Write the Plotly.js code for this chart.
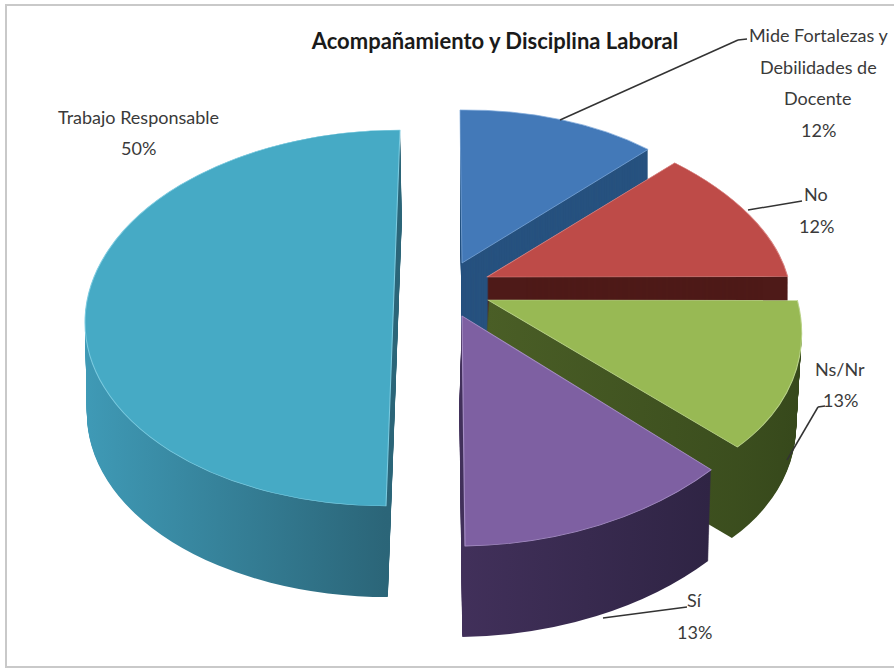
<!DOCTYPE html>
<html>
<head>
<meta charset="utf-8">
<script src="https://cdn.plot.ly/plotly-3.0.1.min.js"></script>
<style>html,body{margin:0;padding:0;background:#fff;overflow:hidden}</style>
</head>
<body>
<div id="chart" style="width:894px;height:669px"></div>
<script>
// ---- data ----
const categories = ["Mide Fortalezas y Debilidades de Docente", "No", "Ns/Nr", "Sí", "Trabajo Responsable"];
const values = [12, 12, 13, 13, 50];
const chartTitle = "Acompañamiento y Disciplina Laboral";
const labelLines = [
  ["Mide Fortalezas y", "Debilidades de", "Docente", "12%"],
  ["No", "12%"],
  ["Ns/Nr", "13%"],
  ["Sí", "13%"],
  ["Trabajo Responsable", "50%"]
];

// ---- styles ----
const topColors  = ["#4379B8", "#BE4B48", "#98B954", "#7E60A2", "#46AAC5"];
const edgeColors = ["#7FA9DA", "#D98583", "#BBD48A", "#A58DC4", "#7CCBE0"];
const wallColors = ["#27527F", "#4E1A18", "#3F5220", "#38284F", "#357F99"];
const wallGradients = [null, null, ["#4A5E26", "#36481B"], ["#41305A", "#2F2444"], ["#3F9AB6", "#2B6578"]];

// ---- 3D view: how each exploded slice is tilted (pixels) ----
const sliceApex = [[462, 263], [487, 277], [488, 300], [462, 316], [393, 318]];
const sliceRight = [[274, -3], [303, 10], [312, 13], [339, -5], [308, 0]];
const sliceUp = [[-2, -153], [-27, -166], [-32, -201], [-3, -230], [7, -188]];
const wallLean = [0, 0, -0.06, -0.03, 0.02];
const depthPx = 91, depthStep = 1, pullShare = 0.15;

// label / leader placement (pixels)
const labelCentre = [[818, 35], [816, 194], [840, 369], [694, 600], [138, 117]];
const lineGap = 31.5;
const leaders = [
  [[560, 120], [738, 40], [747, 39]],
  [[748, 210], [802, 201]],
  [[787, 460], [818, 407], [825, 406]],
  [[603, 618], [687, 607]]
];

const W = 894, H = 669;
const px = x => x / W, py = y => 1 - y / H;

// extruded pie: one pie per depth step, deepest first
const depths = [];
for (let d = depthPx; d >= 0; d -= depthStep) depths.push(d);

const traces = depths.map(d => ({
  type: "pie",
  labels: categories,
  values: values,
  sort: false,
  direction: "clockwise",
  rotation: 0,
  pull: categories.map(() => pullShare),
  textinfo: "none",
  hoverinfo: "label+percent",
  showlegend: false,
  domain: {x: [0, 1], y: [0, 1]},
  marker: {
    colors: d === 0 ? topColors : wallColors,
    line: d === 0 ? {color: edgeColors, width: 1} : {width: 0}
  }
}));

const annotations = [];
labelLines.forEach((lines, i) => {
  lines.forEach((t, k) => annotations.push({
    text: t, xref: "paper", yref: "paper",
    x: px(labelCentre[i][0]), y: py(labelCentre[i][1] + k * lineGap),
    xanchor: "center", yanchor: "middle", showarrow: false,
    font: {family: "Lato, 'Open Sans', sans-serif", size: 18, color: "#3A3A3A"}
  }));
});

const shapes = [{
  type: "rect", xref: "paper", yref: "paper",
  x0: px(6), x1: px(900), y0: py(667), y1: py(5),
  line: {color: "#C9C9C9", width: 2}, fillcolor: "rgba(0,0,0,0)", layer: "below"
}];
leaders.forEach(pts => {
  for (let i = 0; i < pts.length - 1; i++) shapes.push({
    type: "line", xref: "paper", yref: "paper",
    x0: px(pts[i][0]), y0: py(pts[i][1]), x1: px(pts[i + 1][0]), y1: py(pts[i + 1][1]),
    line: {color: "#333333", width: 1.5}, layer: "above"
  });
});

const layout = {
  width: W, height: H,
  margin: {l: 0, r: 0, t: 0, b: 0},
  paper_bgcolor: "#FFFFFF",
  showlegend: false,
  title: {
    text: "<b>" + chartTitle + "</b>",
    x: 495 / W, xref: "paper", xanchor: "center",
    y: 1 - 41 / H, yref: "container", yanchor: "middle",
    font: {family: "Lato, 'Open Sans', sans-serif", size: 22, color: "#1A1A1A"}
  },
  shapes: shapes,
  annotations: annotations
};

const gd = document.getElementById("chart");
Plotly.newPlot(gd, traces, layout, {displayModeBar: false, staticPlot: true}).then(() => {
  const svgNS = "http://www.w3.org/2000/svg";
  const svg = gd.querySelector("svg.main-svg");
  const defs = document.createElementNS(svgNS, "defs");
  wallGradients.forEach((g, j) => {
    if (!g) return;
    const lg = document.createElementNS(svgNS, "linearGradient");
    lg.setAttribute("id", "wall" + j);
    lg.setAttribute("x1", "0"); lg.setAttribute("x2", "1");
    lg.setAttribute("y1", "0"); lg.setAttribute("y2", "0");
    g.forEach((c, n) => {
      const s = document.createElementNS(svgNS, "stop");
      s.setAttribute("offset", String(n / (g.length - 1)));
      s.setAttribute("stop-color", c);
      lg.appendChild(s);
    });
    defs.appendChild(lg);
  });
  svg.insertBefore(defs, svg.firstChild);

  gd.querySelectorAll(".pielayer .trace").forEach((tr, k) => {
    const d = depths[k];
    const cd = gd.calcdata[k];
    const r = cd[0].r;
    tr.querySelectorAll(".slice").forEach((sl, j) => {
      const pt = cd[j];
      const a = sliceRight[j][0] / r, b = sliceRight[j][1] / r;
      const c = -sliceUp[j][0] / r, e = -sliceUp[j][1] / r;
      const tx = sliceApex[j][0] + wallLean[j] * d - (a * pt.cxFinal + c * pt.cyFinal);
      const ty = sliceApex[j][1] + d - (b * pt.cxFinal + e * pt.cyFinal);
      sl.setAttribute("transform", `matrix(${a},${b},${c},${e},${tx},${ty})`);
      if (d > 0 && wallGradients[j]) {
        sl.querySelector("path").style.fill = `url(#wall${j})`;
      }
    });
  });
});
</script>
</body>
</html>
